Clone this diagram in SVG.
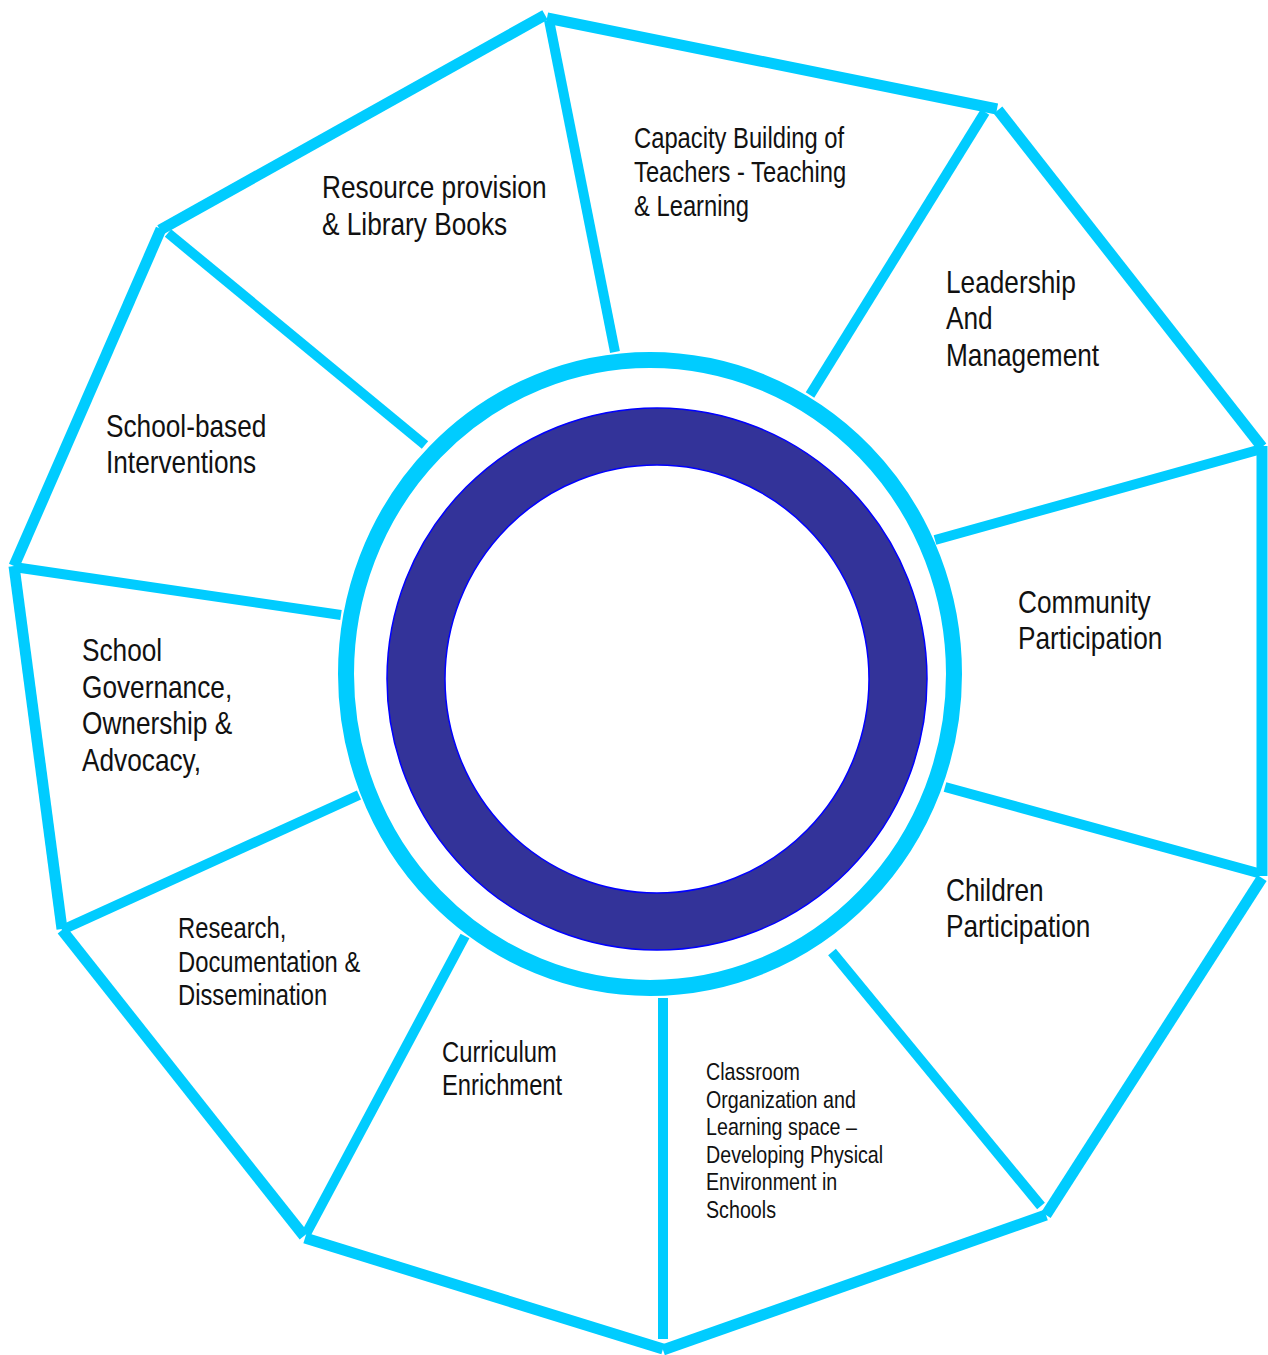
<svg xmlns="http://www.w3.org/2000/svg" width="1268" height="1355" viewBox="0 0 1268 1355">
<style>
.edge{stroke:#00CCFF;stroke-width:11;fill:none;stroke-linecap:butt}
.spoke{stroke:#00CCFF;stroke-width:10;fill:none;stroke-linecap:butt}
.t{font-family:"Liberation Sans",Arial,sans-serif;fill:#111;font-size:32px}
.m{font-size:29px}
.s{font-size:24px}
</style>
<rect width="1268" height="1355" fill="#fff"/>
<g id="connectors">
<line class="edge" x1="160" y1="230" x2="545" y2="15"/>
<line class="edge" x1="547" y1="18" x2="997" y2="109"/>
<line class="edge" x1="998" y1="110" x2="1262" y2="447"/>
<line class="edge" x1="1262" y1="446" x2="1262" y2="876"/>
<line class="edge" x1="1262" y1="878" x2="1046" y2="1215"/>
<line class="edge" x1="1046" y1="1215" x2="663" y2="1350"/>
<line class="edge" x1="663" y1="1349" x2="305" y2="1238"/>
<line class="edge" x1="304" y1="1236" x2="62" y2="930"/>
<line class="edge" x1="62" y1="929" x2="14" y2="566"/>
<line class="edge" x1="14" y1="566" x2="161" y2="229"/>
<line class="spoke" x1="549" y1="20" x2="615" y2="352"/>
<line class="spoke" x1="985" y1="112" x2="810" y2="395"/>
<line class="spoke" x1="1258" y1="450" x2="935" y2="540"/>
<line class="spoke" x1="1258" y1="873" x2="945" y2="787"/>
<line class="spoke" x1="1041" y1="1206" x2="832" y2="952"/>
<line class="spoke" x1="663" y1="998" x2="663" y2="1339"/>
<line class="spoke" x1="306" y1="1234" x2="465" y2="936"/>
<line class="spoke" x1="62" y1="930" x2="359" y2="795"/>
<line class="spoke" x1="14" y1="567" x2="341" y2="615"/>
<line class="spoke" x1="168" y1="233" x2="425" y2="445"/>
</g>
<g id="hub">
<ellipse cx="650" cy="674" rx="304" ry="314" fill="#fff" stroke="#00CCFF" stroke-width="16"/>
<path d="M387,679 a270,271 0 1,0 540,0 a270,271 0 1,0 -540,0 Z M445,679 a212,214 0 1,0 424,0 a212,214 0 1,0 -424,0 Z" fill="#333399" fill-rule="evenodd" stroke="#0000FF" stroke-width="1.5"/>
</g>
<g id="n-capacity"><text class="t m" transform="translate(634 0) scale(0.82 1)"><tspan x="0" y="148">Capacity Building of</tspan><tspan x="0" y="182">Teachers - Teaching</tspan><tspan x="0" y="216">&amp; Learning</tspan></text></g>
<g id="n-resource"><text class="t" transform="translate(322 0) scale(0.82 1)"><tspan x="0" y="198">Resource provision</tspan><tspan x="0" y="235">&amp; Library Books</tspan></text></g>
<g id="n-leadership"><text class="t" transform="translate(946 0) scale(0.82 1)"><tspan x="0" y="293">Leadership</tspan><tspan x="0" y="329">And</tspan><tspan x="0" y="366">Management</tspan></text></g>
<g id="n-school-based"><text class="t" transform="translate(106 0) scale(0.82 1)"><tspan x="0" y="437">School-based</tspan><tspan x="0" y="473">Interventions</tspan></text></g>
<g id="n-community"><text class="t" transform="translate(1018 0) scale(0.82 1)"><tspan x="0" y="613">Community</tspan><tspan x="0" y="649">Participation</tspan></text></g>
<g id="n-governance"><text class="t" transform="translate(82 0) scale(0.82 1)"><tspan x="0" y="661">School</tspan><tspan x="0" y="698">Governance,</tspan><tspan x="0" y="734">Ownership &amp;</tspan><tspan x="0" y="771">Advocacy,</tspan></text></g>
<g id="n-children"><text class="t" transform="translate(946 0) scale(0.82 1)"><tspan x="0" y="901">Children</tspan><tspan x="0" y="937">Participation</tspan></text></g>
<g id="n-research"><text class="t m" transform="translate(178 0) scale(0.82 1)"><tspan x="0" y="938">Research,</tspan><tspan x="0" y="972">Documentation &amp;</tspan><tspan x="0" y="1005">Dissemination</tspan></text></g>
<g id="n-curriculum"><text class="t m" transform="translate(442 0) scale(0.82 1)"><tspan x="0" y="1062">Curriculum</tspan><tspan x="0" y="1095">Enrichment</tspan></text></g>
<g id="n-classroom"><text class="t s" transform="translate(706 0) scale(0.82 1)"><tspan x="0" y="1080">Classroom</tspan><tspan x="0" y="1108">Organization and</tspan><tspan x="0" y="1135">Learning space –</tspan><tspan x="0" y="1163">Developing Physical</tspan><tspan x="0" y="1190">Environment in</tspan><tspan x="0" y="1218">Schools</tspan></text></g>
</svg>
